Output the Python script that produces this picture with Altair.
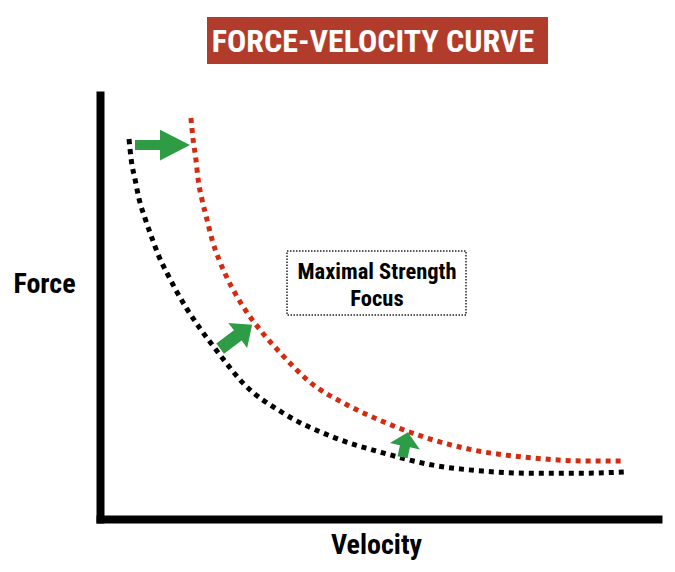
import altair as alt
import pandas as pd

# Baseline force-velocity curve (black dotted)
base_velocity = [5.2, 5.6, 6.3, 7.0, 8.1, 9.3, 10.6, 12.2, 13.8, 15.6, 17.9, 21.5, 25.6,
                 32.8, 41.8, 50.7, 59.7, 68.6, 77.6, 86.6, 93.9]
base_force = [89.6, 84.7, 80.0, 75.5, 70.8, 66.3, 61.8, 57.5, 53.5, 49.5, 45.0, 38.7, 32.1,
              25.0, 19.3, 15.6, 12.7, 11.3, 10.8, 10.8, 11.1]

# Shifted curve after maximal strength focus (red dotted)
shift_velocity = [16.3, 16.7, 17.2, 17.6, 18.3, 19.2, 20.1, 21.3, 22.8, 24.4, 26.3, 28.7,
                  32.3, 37.6, 44.3, 51.4, 58.6, 66.8, 77.6, 86.6, 93.7]
shift_force = [94.6, 89.4, 84.7, 80.0, 75.2, 70.5, 65.8, 61.3, 56.8, 52.8, 48.8, 44.6,
               39.2, 32.3, 26.9, 22.6, 19.1, 16.3, 14.4, 13.7, 13.7]

# Shift arrows (midpoints in data units, direction in degrees clockwise)
arrow_velocity = [11.2, 24.4, 54.7]
arrow_force = [88.2, 43.0, 17.5]
arrow_angle = [0, 323, 282]
arrow_kind = ["long", "mid", "short"]

title_text = "FORCE-VELOCITY CURVE"
box_lines = ["Maximal Strength", "Focus"]

curves = pd.concat([
    pd.DataFrame({"velocity": base_velocity, "force": base_force, "curve": "baseline",
                  "order": range(len(base_velocity))}),
    pd.DataFrame({"velocity": shift_velocity, "force": shift_force, "curve": "shifted",
                  "order": range(len(shift_velocity))}),
])
arrows = pd.DataFrame({"velocity": arrow_velocity, "force": arrow_force,
                       "angle": arrow_angle, "kind": arrow_kind,
                       "size": [3025, 1600, 650]})

W, H = 558, 424
FONT = "Roboto Condensed, Liberation Sans Narrow, Roboto, sans-serif"

x_enc = alt.X("velocity:Q", scale=alt.Scale(domain=[0, 100], nice=False, zero=False),
              axis=alt.Axis(title="Velocity", labels=False, ticks=False, grid=False,
                            domainColor="black", domainWidth=8, domainCap="square",
                            titleFont=FONT, titleFontSize=28, titleFontWeight="bold",
                            titleColor="black", titleX=276, titleY=34,
                            titleBaseline="alphabetic", titleAlign="center"))
y_enc = alt.Y("force:Q", scale=alt.Scale(domain=[0, 100], nice=False, zero=False),
              axis=alt.Axis(title="Force", labels=False, ticks=False, grid=False,
                            domainColor="black", domainWidth=8, domainCap="square",
                            titleFont=FONT, titleFontSize=28, titleFontWeight="bold",
                            titleColor="black", titleAngle=0, titleX=-56, titleY=197,
                            titleBaseline="alphabetic", titleAlign="center"))

lines = alt.Chart(curves).mark_line(
    strokeWidth=5, strokeDash=[5, 5], strokeCap="butt", interpolate="monotone"
).encode(
    x=x_enc, y=y_enc,
    color=alt.Color("curve:N", scale=alt.Scale(domain=["baseline", "shifted"],
                                                range=["#000000", "#d42a10"]), legend=None),
    detail="curve:N",
    order="order:Q",
)

shapes = {
    "long": "M -1 -0.18 L -0.09 -0.18 L -0.09 -0.56 L 1 0 L -0.09 0.56 L -0.09 0.18 L -1 0.18 Z",
    "mid": "M -1 -0.32 L 0.1 -0.32 L 0.1 -0.78 L 1 0 L 0.1 0.78 L 0.1 0.32 L -1 0.32 Z",
    "short": "M -1 -0.4 L -0.12 -0.4 L -0.12 -1.2 L 1 0 L -0.12 1.2 L -0.12 0.4 L -1 0.4 Z",
}
arrow_layer = alt.Chart(arrows).mark_point(filled=True, opacity=1, color="#2e9b45",
                                           strokeWidth=0).encode(
    x="velocity:Q", y="force:Q",
    angle=alt.Angle("angle:Q", scale=None),
    size=alt.Size("size:Q", scale=None),
    shape=alt.Shape("kind:N", scale=alt.Scale(domain=list(shapes.keys()),
                                              range=list(shapes.values())), legend=None),
)

title_df = pd.DataFrame({"t": [title_text]})
title_box = alt.Chart(title_df).mark_rect(color="#b23c2c").encode(
    x=alt.value(107), x2=alt.value(448), y=alt.value(-78), y2=alt.value(-31))
title_label = alt.Chart(title_df).mark_text(
    font=FONT, fontSize=32, fontWeight="bold", color="white", align="center",
    baseline="alphabetic").encode(text="t:N", x=alt.value(273), y=alt.value(-43))

box_df = pd.DataFrame({"line": box_lines, "yy": [184, 211]})
focus_box = alt.Chart(box_df.head(1)).mark_rect(
    fill="white", stroke="#222222", strokeWidth=1.5, strokeDash=[1.5, 1.5]).encode(
    x=alt.value(187), x2=alt.value(366), y=alt.value(156), y2=alt.value(220))
focus_text = alt.Chart(box_df).mark_text(
    font=FONT, fontSize=22.5, fontWeight="bold", color="black", align="center",
    baseline="alphabetic").encode(text="line:N", x=alt.value(277),
                                  y=alt.Y("yy:Q", scale=None, axis=None))

chart = alt.layer(lines, arrow_layer, focus_box, focus_text, title_box, title_label).properties(
    width=W, height=H,
    autosize=alt.AutoSizeParams(type="none"),
    padding={"left": 92, "top": 87, "right": 9, "bottom": 45},
).configure(background="white", view=alt.ViewConfig(stroke=None))

chart.save("out.html", embed_options={"renderer": "svg", "actions": False})
